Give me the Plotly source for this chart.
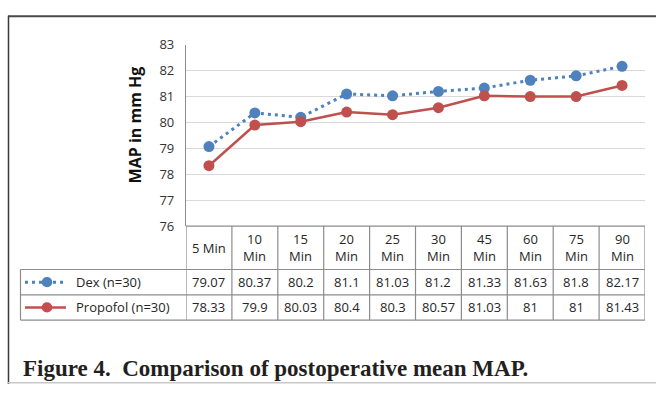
import plotly.graph_objects as go

# ---- data ----
categories = ["5 Min", "10 Min", "15 Min", "20 Min", "25 Min", "30 Min", "45 Min", "60 Min", "75 Min", "90 Min"]
header_labels = ["5 Min", "10<br>Min", "15<br>Min", "20<br>Min", "25<br>Min", "30<br>Min",
                 "45<br>Min", "60<br>Min", "75<br>Min", "90<br>Min"]
dex_values = [79.07, 80.37, 80.2, 81.1, 81.03, 81.2, 81.33, 81.63, 81.8, 82.17]
propofol_values = [78.33, 79.9, 80.03, 80.4, 80.3, 80.57, 81.03, 81, 81, 81.43]
series_names = ["Dex (n=30)", "Propofol (n=30)"]
y_ticks = [76, 77, 78, 79, 80, 81, 82, 83]
y_title = "MAP in mm Hg"
caption = "Figure 4.  Comparison of postoperative mean MAP."

# ---- layout constants (pixels) ----
W, H = 656, 393
BLUE = "#4F81BD"
RED = "#C0504D"
TXT = "#262626"
TABLE_LINE = "#8c8c8c"
GRID = "#d9d9d9"
FONT = "Open Sans"

def px(x):
    return x / W

def py(y):
    return 1 - y / H

plot_left, plot_right = 186, 645
plot_top, plot_bottom = 37.5, 227.5
row_header_bottom, row1_bottom, row2_bottom = 273, 299.5, 326
legend_left = 20.5

fig = go.Figure()
fig.add_trace(go.Scatter(
    x=categories, y=dex_values, name=series_names[0], mode="lines+markers",
    line=dict(color=BLUE, width=3, dash="3px,4px"),
    marker=dict(color=BLUE, size=11),
))
fig.add_trace(go.Scatter(
    x=categories, y=propofol_values, name=series_names[1], mode="lines+markers",
    line=dict(color=RED, width=2.5),
    marker=dict(color=RED, size=11),
))

shapes = []
annotations = []

# table vertical lines at category boundaries
n = len(categories)
for i in range(n + 1):
    shapes.append(dict(type="line", xref="x", yref="paper",
                       x0=i - 0.5, x1=i - 0.5,
                       y0=py(plot_bottom), y1=py(row2_bottom),
                       line=dict(color=TABLE_LINE, width=1.2)))
# table horizontal lines
shapes.append(dict(type="line", xref="paper", yref="paper",
                   x0=px(plot_left), x1=px(plot_right), y0=py(plot_bottom), y1=py(plot_bottom),
                   line=dict(color=TABLE_LINE, width=1.2)))
for yb in (row_header_bottom, row1_bottom, row2_bottom):
    shapes.append(dict(type="line", xref="paper", yref="paper",
                       x0=px(legend_left), x1=px(plot_right), y0=py(yb), y1=py(yb),
                       line=dict(color=TABLE_LINE, width=1.2)))
shapes.append(dict(type="line", xref="paper", yref="paper",
                   x0=px(legend_left), x1=px(legend_left), y0=py(row_header_bottom), y1=py(row2_bottom),
                   line=dict(color=TABLE_LINE, width=1.2)))

# header labels
for i, lab in enumerate(header_labels):
    annotations.append(dict(xref="x", yref="paper", x=i, y=py((plot_bottom + row_header_bottom) / 2),
                            text=lab, showarrow=False, font=dict(family=FONT, size=13, color=TXT),
                            xanchor="center", yanchor="middle", align="center"))

# value rows
rows = [(dex_values, (row_header_bottom + row1_bottom) / 2),
        (propofol_values, (row1_bottom + row2_bottom) / 2)]
for vals, yc in rows:
    for i, v in enumerate(vals):
        annotations.append(dict(xref="x", yref="paper", x=i, y=py(yc),
                                text=f"{v:g}", showarrow=False,
                                font=dict(family=FONT, size=13, color=TXT),
                                xanchor="center", yanchor="middle"))

# legend keys inside table
leg = [(series_names[0], BLUE, "3px,4px", 3, rows[0][1]),
       (series_names[1], RED, "solid", 2.5, rows[1][1])]
for name, col, dash, lw, yc in leg:
    shapes.append(dict(type="line", xref="paper", yref="paper",
                       x0=px(25), x1=px(66), y0=py(yc), y1=py(yc),
                       line=dict(color=col, width=lw, dash=dash)))
    r = 5.3
    shapes.append(dict(type="circle", xref="paper", yref="paper",
                       x0=px(47 - r), x1=px(47 + r), y0=py(yc + r), y1=py(yc - r),
                       fillcolor=col, line=dict(color=col, width=0)))
    annotations.append(dict(xref="paper", yref="paper", x=px(74), y=py(yc),
                            text=name, showarrow=False, font=dict(family=FONT, size=13, color=TXT),
                            xanchor="left", yanchor="middle"))

# y title
annotations.append(dict(xref="paper", yref="paper", x=px(135), y=py(122),
                        text="<b>" + y_title + "</b>", textangle=-90, showarrow=False,
                        font=dict(family=FONT, size=16, color="#111111"),
                        xanchor="center", yanchor="middle"))
# caption
annotations.append(dict(xref="paper", yref="paper", x=px(21), y=py(377),
                        text="<b>" + caption + "</b>", showarrow=False,
                        font=dict(family="Liberation Serif", size=23, color="#231f20"),
                        xanchor="left", yanchor="middle"))

# outer frame
shapes.append(dict(type="line", xref="paper", yref="paper", x0=px(8), x1=1, y0=py(7.5), y1=py(7.5),
                   line=dict(color="#4a4a4a", width=2)))
shapes.append(dict(type="line", xref="paper", yref="paper", x0=px(8.5), x1=px(8.5), y0=py(7), y1=0,
                   line=dict(color="#3a3a3a", width=1.5)))
shapes.append(dict(type="line", xref="paper", yref="paper", x0=px(8), x1=1, y0=py(391.8), y1=py(391.8),
                   line=dict(color="#c8c8c8", width=1.5)))

fig.update_layout(
    width=W, height=H,
    margin=dict(l=0, r=0, t=0, b=0),
    paper_bgcolor="white", plot_bgcolor="white",
    showlegend=False,
    shapes=shapes, annotations=annotations,
    xaxis=dict(domain=[px(plot_left), px(plot_right)], type="category",
               categoryorder="array", categoryarray=categories,
               range=[-0.5, n - 0.5], showticklabels=False, showgrid=False,
               zeroline=False, showline=False, fixedrange=True),
    yaxis=dict(domain=[py(plot_bottom), py(plot_top)], range=[76, 83],
               tickvals=y_ticks, showgrid=True, gridcolor=GRID, gridwidth=1.2,
               zeroline=False, showline=True, linecolor=TABLE_LINE, linewidth=1.2,
               ticks="", ticklabelstandoff=8,
               tickfont=dict(family=FONT, size=13, color="#333333"), fixedrange=True),
)

fig.write_html("out.html")
